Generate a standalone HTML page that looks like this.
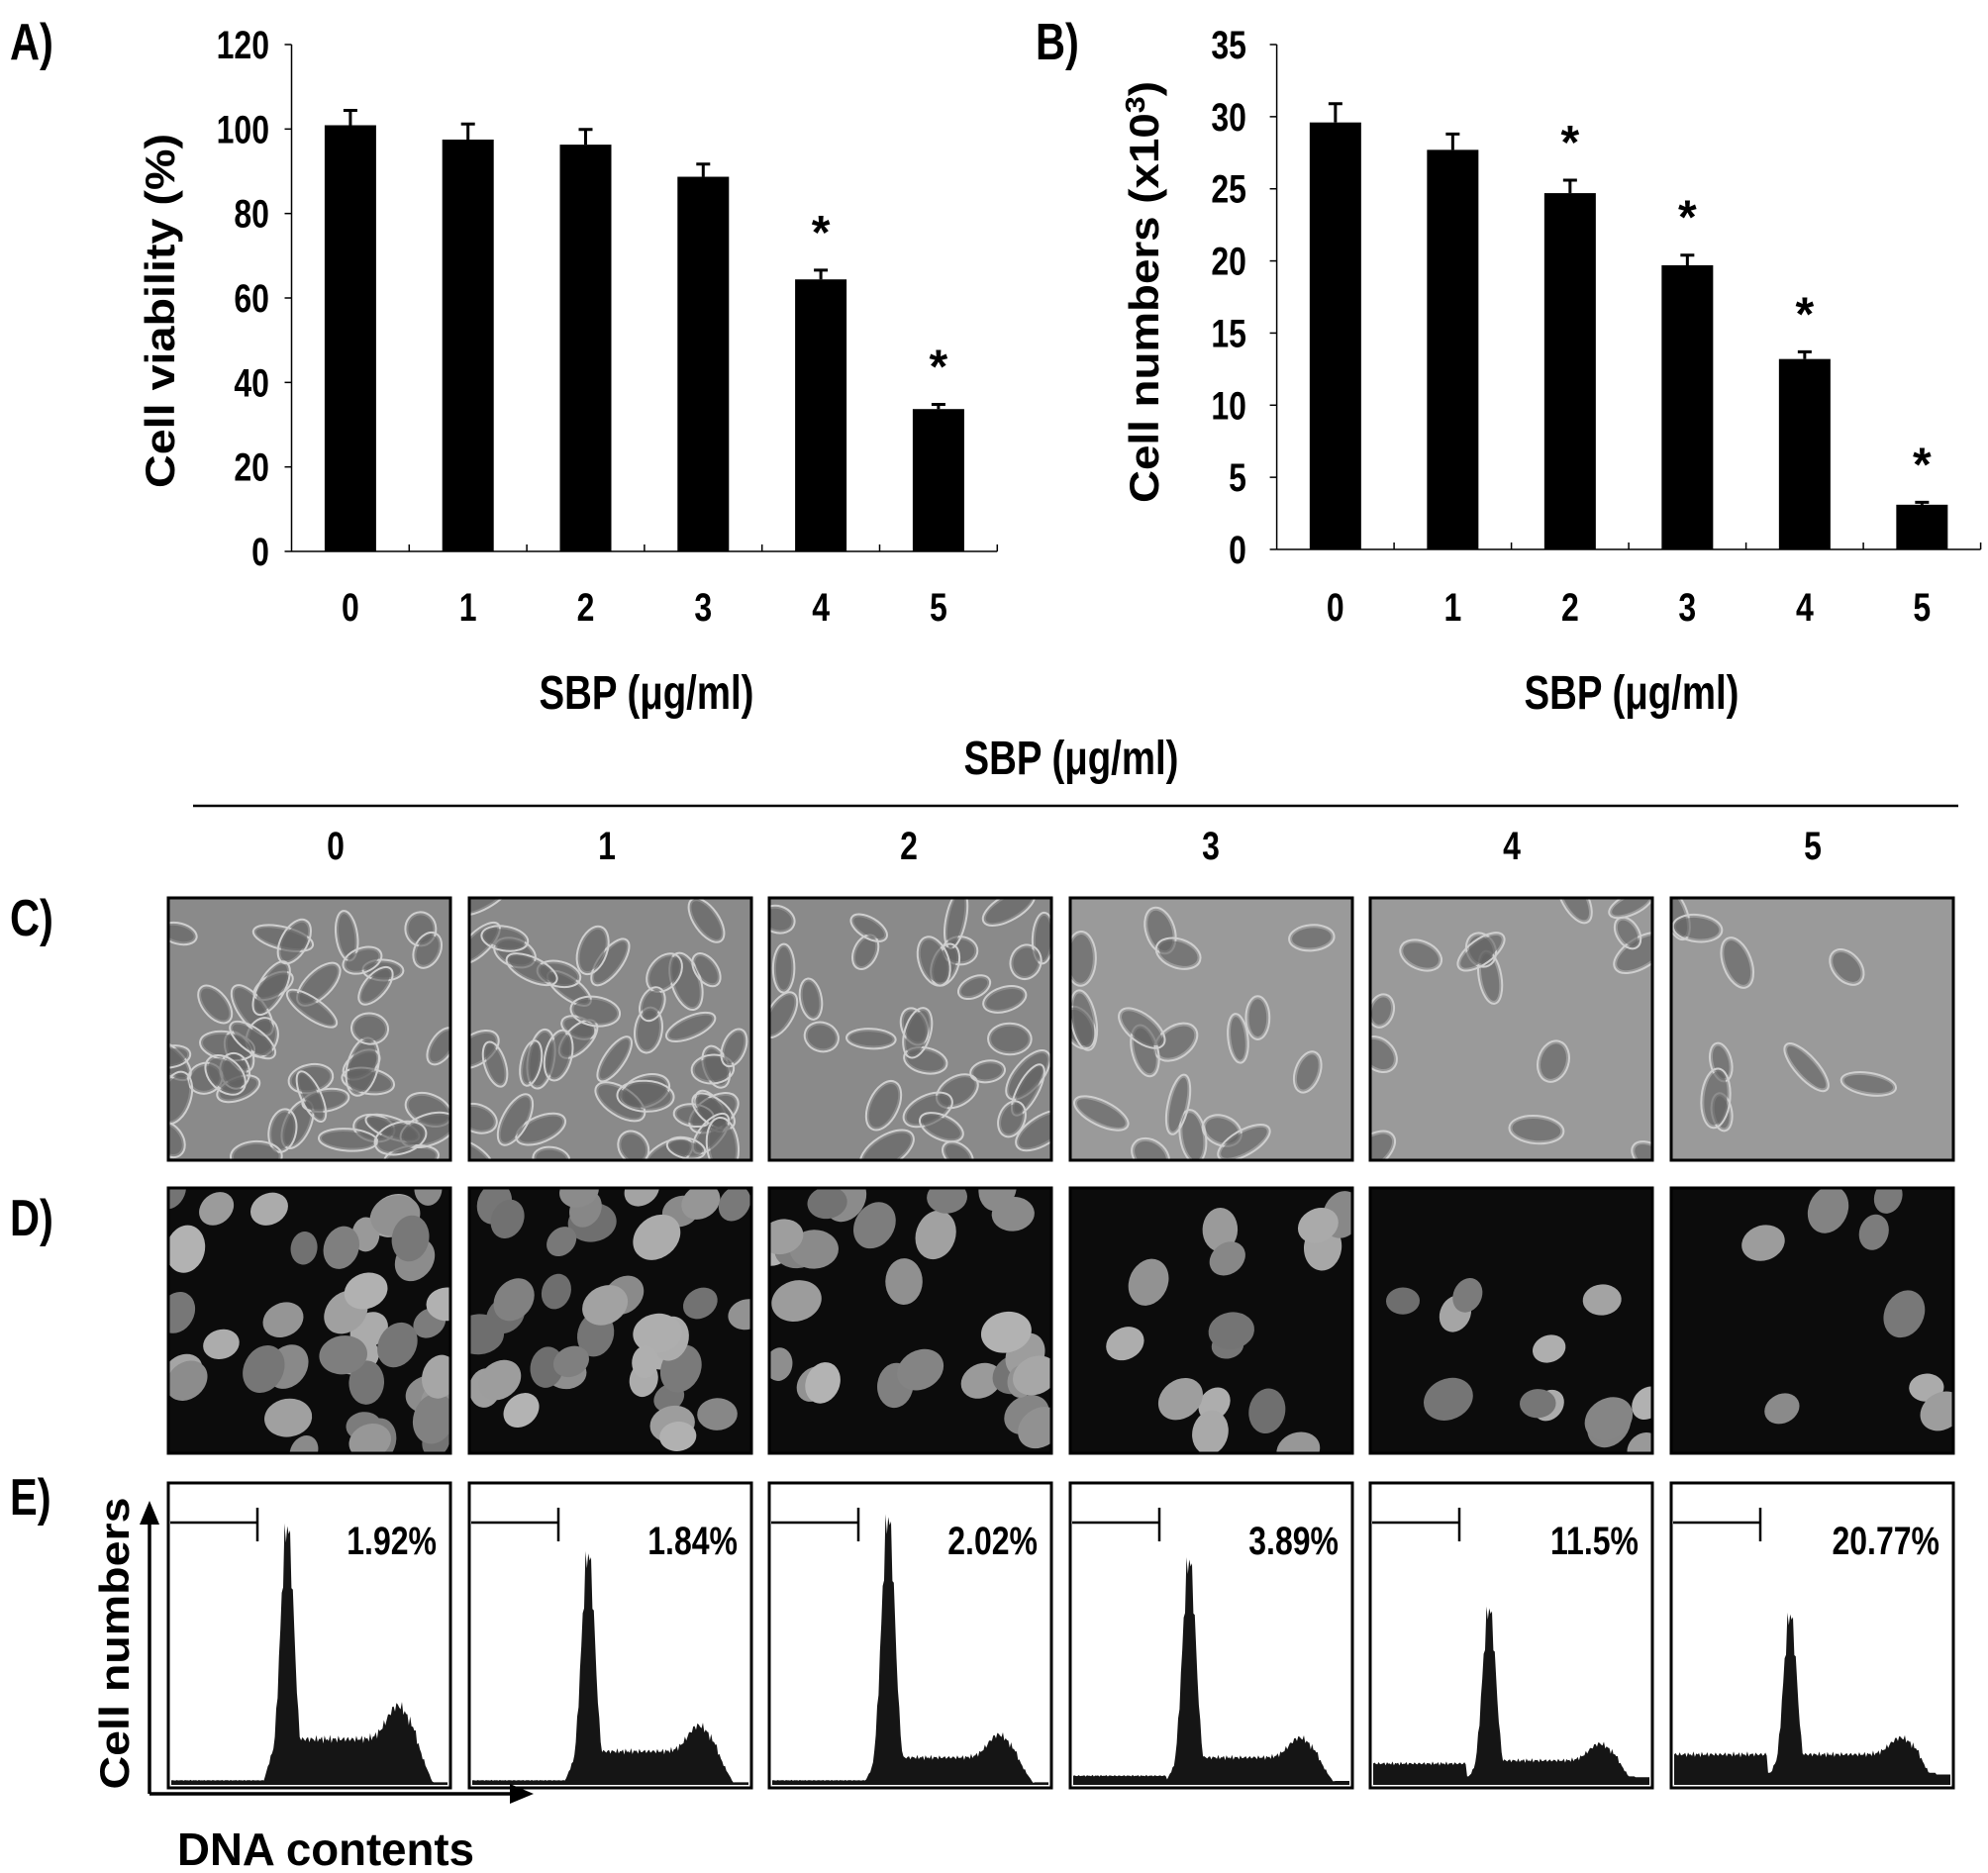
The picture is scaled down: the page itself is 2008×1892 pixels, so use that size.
<!DOCTYPE html>
<html><head><meta charset="utf-8"><style>
html,body{margin:0;padding:0;background:#fff;}
svg{display:block;}
text{font-family:"Liberation Sans",sans-serif;font-weight:bold;fill:#000;}
.n{transform-box:fill-box;transform-origin:center;transform:scaleX(0.8);}
</style></head><body>
<svg id="fig" width="2008" height="1892" viewBox="0 0 2008 1892" xmlns="http://www.w3.org/2000/svg">
<g id="panelA"></g>
<g id="panelB"></g>
<g id="mid"></g>
<g id="photos"></g>
<g id="panelE"></g>
</svg>
<script>
const categories = ["0","1","2","3","4","5"];
const viabilityValues = [100.9, 97.5, 96.3, 88.7, 64.4, 33.7];
const viabilityErrors = [3.5, 3.7, 3.6, 3.0, 2.2, 1.1];
const viabilitySig = [false,false,false,false,true,true];
const viabilityTicks = [0,20,40,60,80,100,120];
const countValues = [29.6, 27.7, 24.7, 19.7, 13.2, 3.1];
const countErrors = [1.3, 1.1, 0.9, 0.7, 0.5, 0.17];
const countSig = [false,false,true,true,true,true];
const countTicks = [0,5,10,15,20,25,30,35];
const apoptosisLabels = ["1.92%","1.84%","2.02%","3.89%","11.5%","20.77%"];
const g1PeakHeight = [0.85, 0.76, 0.88, 0.74, 0.58, 0.56];
const sPhaseLevel = [0.15, 0.11, 0.09, 0.09, 0.08, 0.10];
const g2Height = [0.22, 0.17, 0.15, 0.13, 0.11, 0.11];
const subG1Level = [0.015, 0.015, 0.015, 0.03, 0.07, 0.10];

const NS="http://www.w3.org/2000/svg";
function mk(parent, tag, attrs, txt){
  const e=document.createElementNS(NS,tag);
  for(const k in attrs) e.setAttribute(k, attrs[k]);
  if(txt!==undefined) e.textContent=txt;
  parent.appendChild(e); return e;
}

function barChart(g, o){
  const x0=o.x0, cw=o.cw, y0=o.y0, yTop=o.yTop, vmax=o.vmax;
  const ys = v => y0 - (v/vmax)*(y0-yTop);
  const xc = i => x0 + cw*(i+0.5);
  let ax=mk(g,'line',{x1:x0,y1:yTop,x2:x0,y2:y0,stroke:'#000','stroke-width':1.5});
   
  let bx=mk(g,'line',{x1:x0,y1:y0,x2:x0+cw*categories.length,y2:y0,stroke:'#000','stroke-width':1.5});
   
  o.ticks.forEach(t=>{
    const y=ys(t);
    const tk=mk(g,'line',{x1:x0-7,y1:y,x2:x0,y2:y,stroke:'#000','stroke-width':1.5});
     
    const tl=mk(g,'text',{x:o.labelX,y:y+14,'text-anchor':'end','font-size':40,class:'n',style:'transform-origin:right center'},String(t));
     
  });
  for(let i=1;i<=categories.length;i++){
    const tk=mk(g,'line',{x1:x0+cw*i,y1:y0,x2:x0+cw*i,y2:y0-7,stroke:'#000','stroke-width':1.5});
     
  }
  categories.forEach((c,i)=>{
    const v=o.vals[i], e=o.errs[i], cx=xc(i);
    const r=mk(g,'rect',{x:cx-26,y:ys(v),width:52,height:y0-ys(v),fill:'#000'});
     
    const et=ys(v+e);
    const el=mk(g,'path',{d:`M${cx} ${ys(v)} V${et} M${cx-7} ${et} H${cx+7}`,stroke:'#000','stroke-width':3,fill:'none'});
     
    if(o.sig[i]){
      const s=mk(g,'text',{x:cx,y:et-22,'text-anchor':'middle','font-size':48},'*');
       
    }
    const xl=mk(g,'text',{x:cx,y:627,'text-anchor':'middle','font-size':40,class:'n'},c);
     
  });
  const xt=mk(g,'text',{x:o.titleX,y:716,'text-anchor':'middle','font-size':48,class:'n'});
  xt.textContent='SBP (\u03bcg/ml)';
   
  const yt=mk(g,'text',{x:0,y:0,'text-anchor':'middle','font-size':42,transform:`translate(${o.ytX},${o.ytY}) rotate(-90)`,textLength:o.ytLen,lengthAdjust:'spacingAndGlyphs'});
  yt.innerHTML=o.ytHtml;
   
  const pl=mk(g,'text',{x:o.plX,y:60,'font-size':52,class:'n',style:'transform-origin:left center'},o.pl);
   
}
barChart(document.getElementById('panelA'),{x0:294.5,cw:118.8,y0:557,yTop:45,vmax:120,ticks:viabilityTicks,vals:viabilityValues,errs:viabilityErrors,sig:viabilitySig,labelX:272,titleX:653,ytX:176,ytY:314,ytLen:358,ytHtml:'Cell viability (%)',plX:10,pl:'A)'});
barChart(document.getElementById('panelB'),{x0:1289.6,cw:118.5,y0:555,yTop:45,vmax:35,ticks:countTicks,vals:countValues,errs:countErrors,sig:countSig,labelX:1259,titleX:1648,ytX:1170,ytY:295,ytLen:426,ytHtml:'Cell numbers (x10<tspan dy="-14" font-size="28">3</tspan><tspan dy="14">)</tspan>',plX:1046,pl:'B)'});

// middle header
const mid=document.getElementById('mid');
let t=mk(mid,'text',{x:1082,y:782,'text-anchor':'middle','font-size':48,class:'n'},'SBP (\u03bcg/ml)');
 
let ln=mk(mid,'line',{x1:195,y1:814,x2:1978,y2:814,stroke:'#000','stroke-width':2.5});
 
const colL=[170,474,777,1081,1384,1688], colW=285;
const hdrX=[339,613,918,1223,1527,1831];
categories.forEach((c,i)=>{
  const h=mk(mid,'text',{x:hdrX[i],y:868,'text-anchor':'middle','font-size':40,class:'n'},c);
   
});
[['C)',945],['D)',1248],['E)',1530]].forEach(p=>{
  const l=mk(mid,'text',{x:10,y:p[1],'font-size':52,class:'n',style:'transform-origin:left center'},p[0]);
   
});

// photos (decorative textures)
const ph=document.getElementById('photos');
let seed=7; const rnd=()=>{seed=(seed*16807)%2147483647;return seed/2147483647;};
const cellCount=[45,45,32,18,14,9];
colL.forEach((x,i)=>{
  const cg=mk(ph,'g',{});
   
  const cc=mk(cg,'clipPath',{id:'cc'+i}); mk(cc,'rect',{x:x,y:907,width:colW,height:265});
  mk(cg,'rect',{x:x,y:907,width:colW,height:265,fill:i<3?'#8a8a8a':'#9a9a9a'});
  const inner=mk(cg,'g',{'clip-path':`url(#cc${i})`});
  for(let k=0;k<cellCount[i];k++){
    const cx=x+rnd()*colW, cy=907+rnd()*265, a=rnd()*180, rx=14+rnd()*14, ry=7+rnd()*6;
    mk(inner,'ellipse',{cx,cy,rx:rx+3,ry:ry+3,fill:'none',stroke:'#cfcfcf','stroke-width':2,transform:`rotate(${a} ${cx} ${cy})`});
    mk(inner,'ellipse',{cx,cy,rx,ry,fill:'#606060',opacity:0.6,transform:`rotate(${a} ${cx} ${cy})`});
  }
  mk(cg,'rect',{x:x,y:907,width:colW,height:265,fill:'none',stroke:'#000','stroke-width':3});

  const dg=mk(ph,'g',{});
   
  const dc=mk(dg,'clipPath',{id:'dc'+i}); mk(dc,'rect',{x:x,y:1200,width:colW,height:268});
  mk(dg,'rect',{x:x,y:1200,width:colW,height:268,fill:'#0c0c0c'});
  const din=mk(dg,'g',{'clip-path':`url(#dc${i})`});
  const nN=[38,36,26,14,12,8][i];
  for(let k=0;k<nN;k++){
    const cx=x+rnd()*colW, cy=1200+rnd()*268, r=13+rnd()*8, v=Math.floor(110+rnd()*70);
    mk(din,'ellipse',{cx,cy,rx:r,ry:r*1.25,fill:`rgb(${v},${v},${v})`,transform:`rotate(${rnd()*90} ${cx} ${cy})`});
  }
  mk(dg,'rect',{x:x,y:1200,width:colW,height:268,fill:'none',stroke:'#000','stroke-width':3});
});

// panel E histograms
const pe=document.getElementById('panelE');
const boxTop=1498, boxBot=1806, boxH=boxBot-boxTop;
function histY(i,f){
  const peakC=0.42, g2C=0.82;
  const jig=1+0.1*Math.sin(f*517)*Math.cos(f*131);
  let v;
  if(f<0.34) v=subG1Level[i]*jig;
  else if(f<0.95){
    const rise=Math.min(1,Math.max(0,(f-0.33)/0.05));
    const pk=g1PeakHeight[i]*Math.exp(-Math.pow((f-peakC)/0.035,2));
    const g2=g2Height[i]*Math.exp(-Math.pow((f-g2C)/0.055,2));
    let base=sPhaseLevel[i]*rise;
    const tail=f>0.88?Math.max(0,(0.95-f)/0.07):1;
    v=Math.max(pk,(base+g2*0.5)*tail,g2*tail)*jig;
    v=Math.max(v,subG1Level[i]*0.4);
  } else v=subG1Level[i]*0.3+0.004;
  return boxBot-3-Math.max(v,0.006)*boxH;
}
colL.forEach((x,i)=>{
  const g=mk(pe,'g',{});
   
  let d=`M${x+3} ${boxBot-3}`;
  for(let s=0;s<=200;s++){const f=s/200; d+=` L${(x+3+f*(colW-6)).toFixed(1)} ${histY(i,f).toFixed(1)}`;}
  d+=` L${x+colW-3} ${boxBot-3} Z`;
  const hp=mk(g,'path',{d,fill:'#151515'});
   
  const bx=mk(g,'rect',{x:x,y:boxTop,width:colW,height:boxH,fill:'none',stroke:'#000','stroke-width':3});
   
  const br=mk(g,'path',{d:`M${x+2} 1538 H${x+90} M${x+90} 1523 V1557`,stroke:'#000','stroke-width':2.5,fill:'none'});
   
  const pl=mk(g,'text',{x:x+colW-14,y:1570,'text-anchor':'end','font-size':40,class:'n',style:'transform-origin:right center'},apoptosisLabels[i]);
   
});
let ar=mk(pe,'path',{d:'M151 1812 V1540 M151 1812 H515',stroke:'#000','stroke-width':3.5,fill:'none'});
 
mk(pe,'path',{d:'M141 1540 L151 1516 L161 1540 Z M515 1802 L539 1812 L515 1822 Z',fill:'#000'});
let cn=mk(pe,'text',{x:0,y:0,'text-anchor':'middle','font-size':42,transform:'translate(130,1660) rotate(-90)',textLength:295,lengthAdjust:'spacingAndGlyphs'},'Cell numbers');
 
let dn=mk(pe,'text',{x:179,y:1884,'font-size':46,textLength:300,lengthAdjust:'spacingAndGlyphs'},'DNA contents');
 
</script>
</body></html>
